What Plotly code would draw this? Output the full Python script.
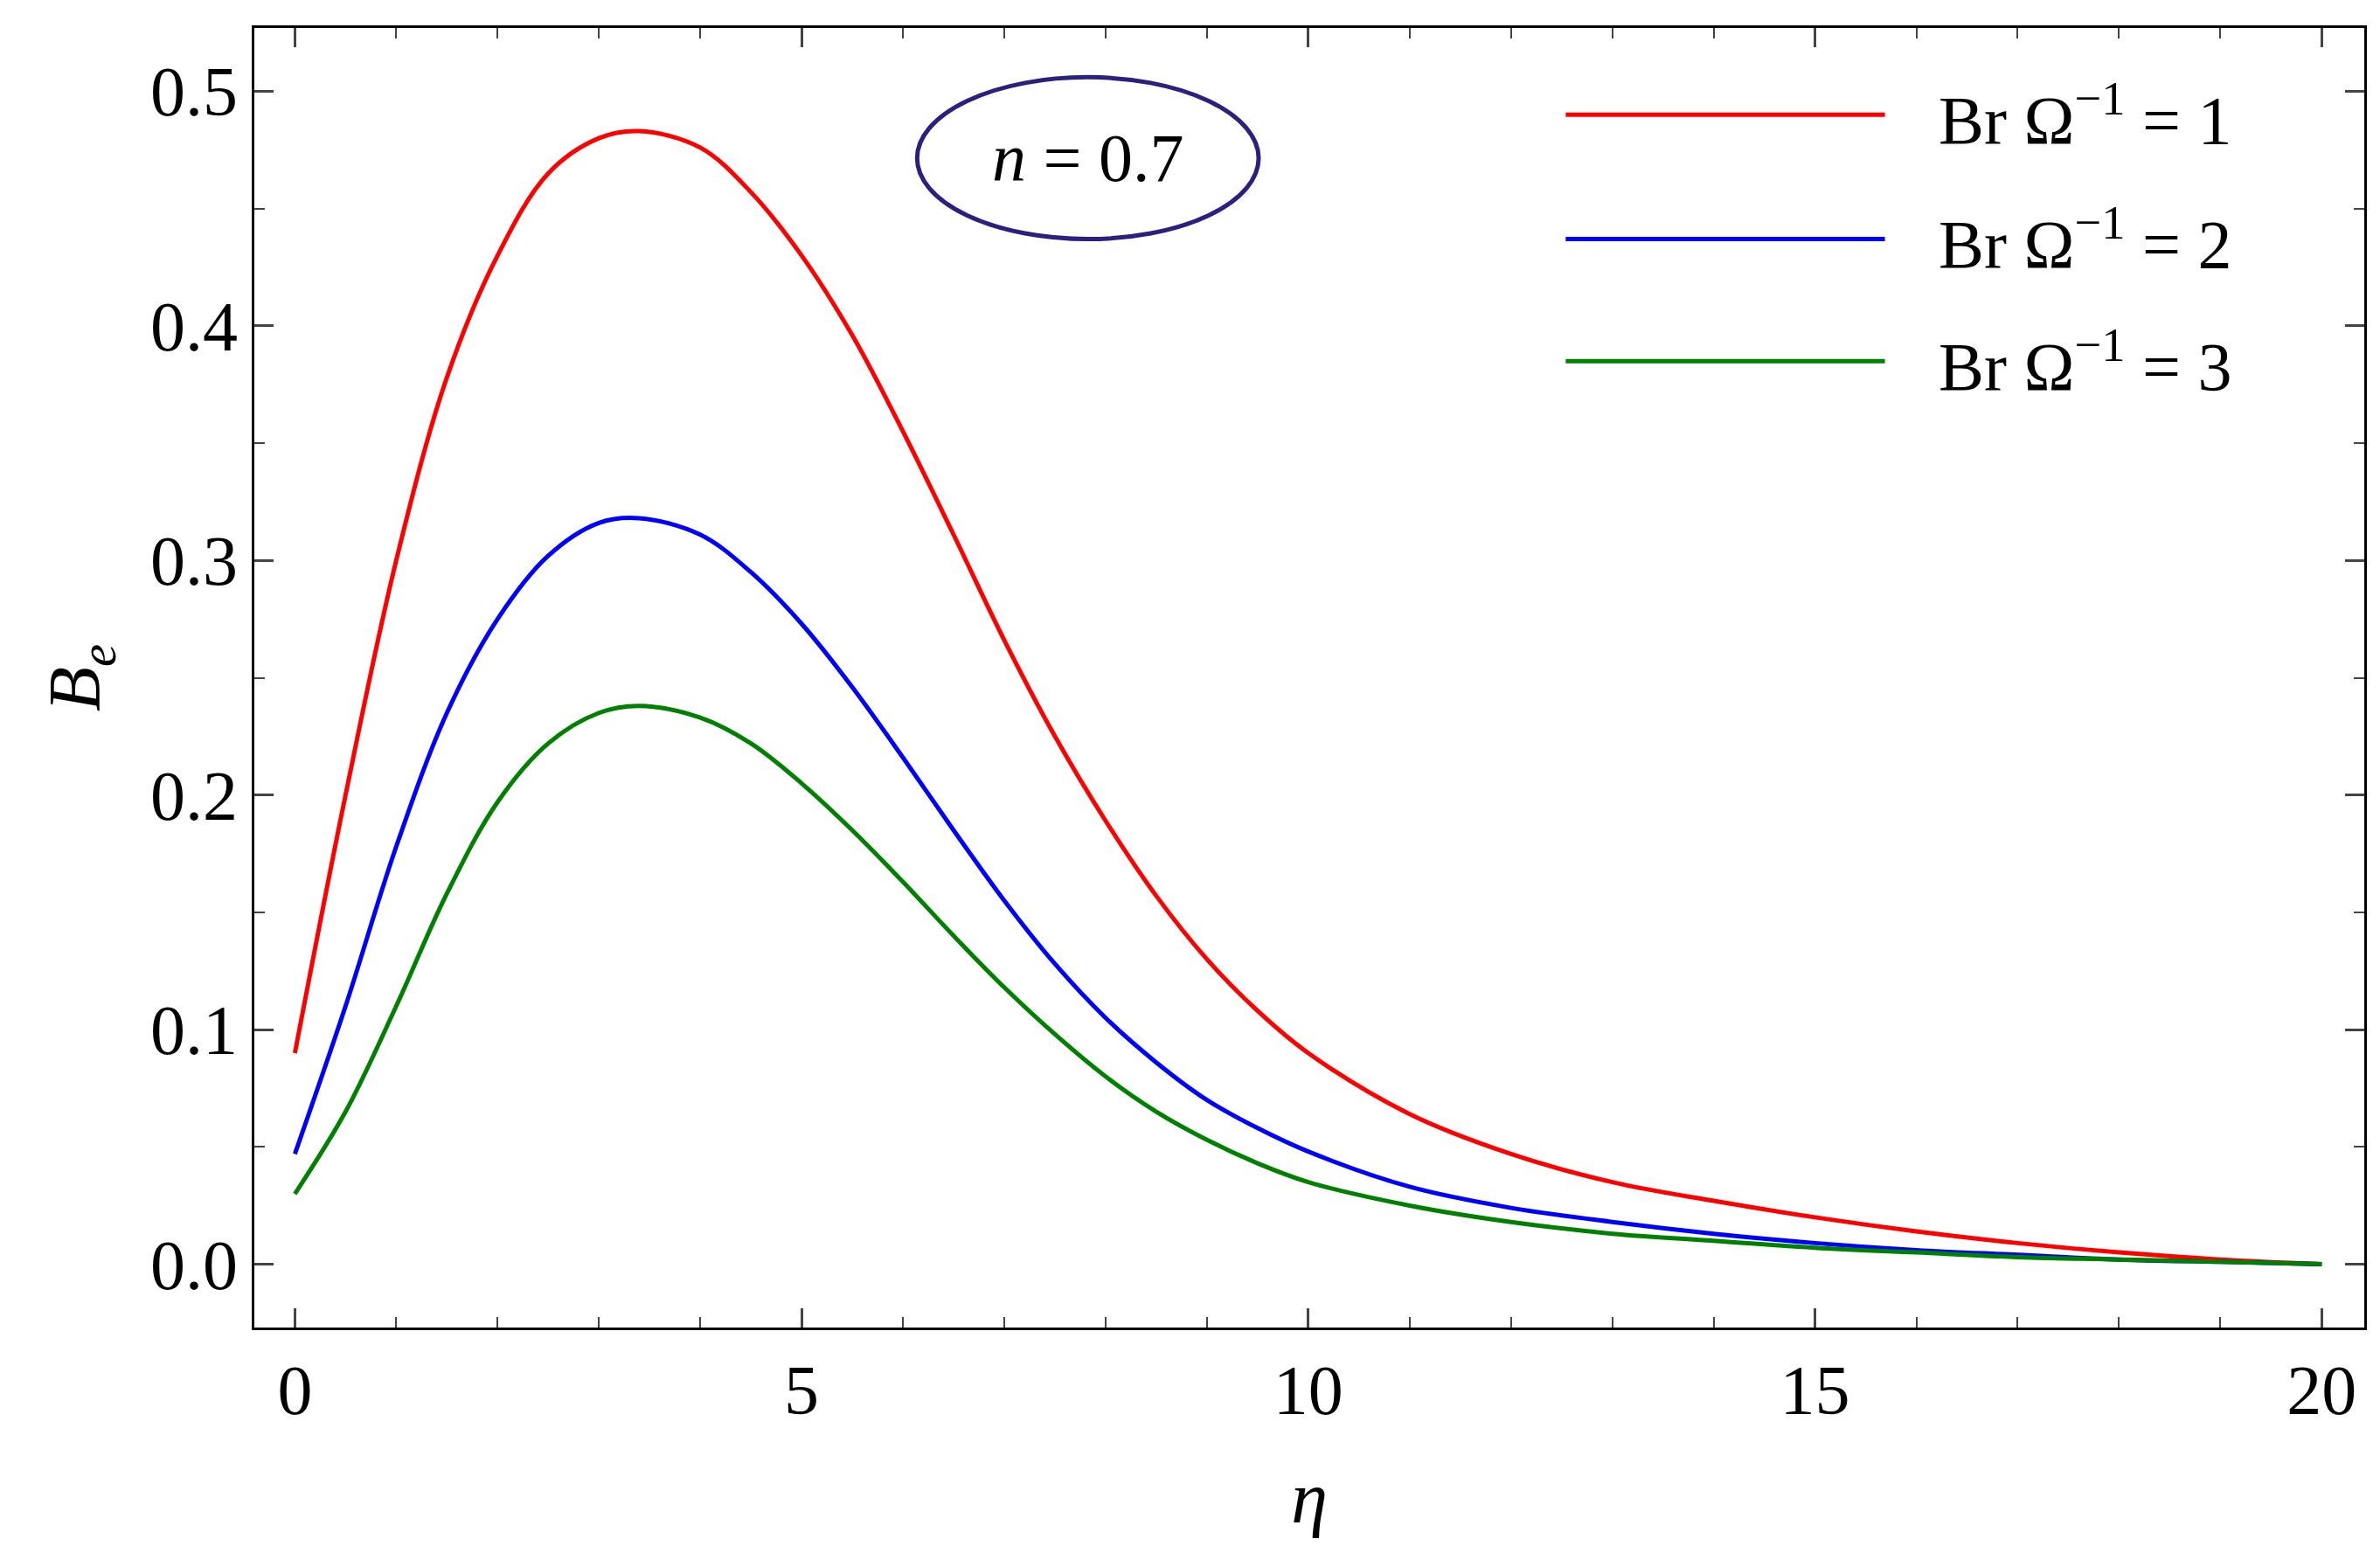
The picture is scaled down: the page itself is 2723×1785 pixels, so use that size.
import plotly.graph_objects as go

eta = [0,0.5,1,1.5,2,2.5,3,3.4,4,4.5,5,5.5,6,6.5,7,7.5,8,8.5,9,9.5,10,11,12,13,14,15,16,17,18,19,20]
red = [0.09,0.2,0.3,0.378,0.43,0.465,0.48,0.483,0.476,0.457,0.43,0.396,0.355,0.311,0.266,0.225,0.189,0.157,0.13,0.108,0.09,0.064,0.047,0.035,0.027,0.02,0.014,0.009,0.005,0.002,0.0]
blue = [0.047,0.11,0.178,0.235,0.275,0.302,0.316,0.318,0.311,0.295,0.273,0.246,0.216,0.185,0.155,0.128,0.105,0.086,0.07,0.058,0.048,0.033,0.024,0.018,0.013,0.009,0.006,0.004,0.002,0.001,0.0]
green = [0.03,0.065,0.11,0.158,0.197,0.222,0.235,0.238,0.233,0.222,0.205,0.185,0.163,0.14,0.118,0.098,0.08,0.065,0.053,0.043,0.035,0.025,0.018,0.013,0.01,0.007,0.005,0.003,0.002,0.001,0.0]
names = ["Br Ω<sup>−1</sup> = 1","Br Ω<sup>−1</sup> = 2","Br Ω<sup>−1</sup> = 3"]
colors = ["#ff0000","#0000ff","#008000"]
leg_y = [0.490,0.437,0.385]

font = "Liberation Serif"
fig = go.Figure()
for ys,nm,c,ly in zip([red,blue,green],names,colors,leg_y):
    fig.add_trace(go.Scatter(x=eta,y=ys,name=nm,mode="lines",showlegend=False,
                             line=dict(color=c,width=5,shape="spline",smoothing=1.0)))
    fig.add_shape(type="line",xref="x",yref="y",x0=12.54,x1=15.69,y0=ly,y1=ly,line=dict(color=c,width=5))
    fig.add_annotation(x=16.2,y=ly,xanchor="left",text=nm,showarrow=False,font=dict(family=font,size=78,color="black"))

fig.add_shape(type="circle",xref="x",yref="y",x0=6.14,x1=9.51,y0=0.437,y1=0.506,line=dict(color="#2b2080",width=5))
fig.add_annotation(x=7.83,y=0.4715,text="<i>n</i> = 0.7",showarrow=False,font=dict(family=font,size=78,color="black"))

axcommon = dict(showline=True,linecolor="black",linewidth=3,mirror="ticks",ticks="inside",ticklen=22,tickwidth=3,
                showgrid=False,zeroline=False,tickfont=dict(family=font,size=80,color="black"),
                minor=dict(ticks="inside",ticklen=12,tickwidth=2,nticks=5))
fig.update_xaxes(range=[-0.4,20.42],tickvals=[0,5,10,15,20],
                 title=dict(text="<i>η</i>",font=dict(family=font,size=84,color="black"),standoff=50),**axcommon)
fig.update_yaxes(range=[-0.027,0.527],tickvals=[0,0.1,0.2,0.3,0.4,0.5],tickformat=".1f",
                 title=dict(text="<i>B<sub>e</sub></i>",font=dict(family=font,size=84,color="black"),standoff=30),**axcommon)
fig.update_layout(width=2723,height=1785,margin=dict(l=283,r=26,t=24,b=274),plot_bgcolor="white",paper_bgcolor="white",showlegend=False)
fig.write_html("out.html")
